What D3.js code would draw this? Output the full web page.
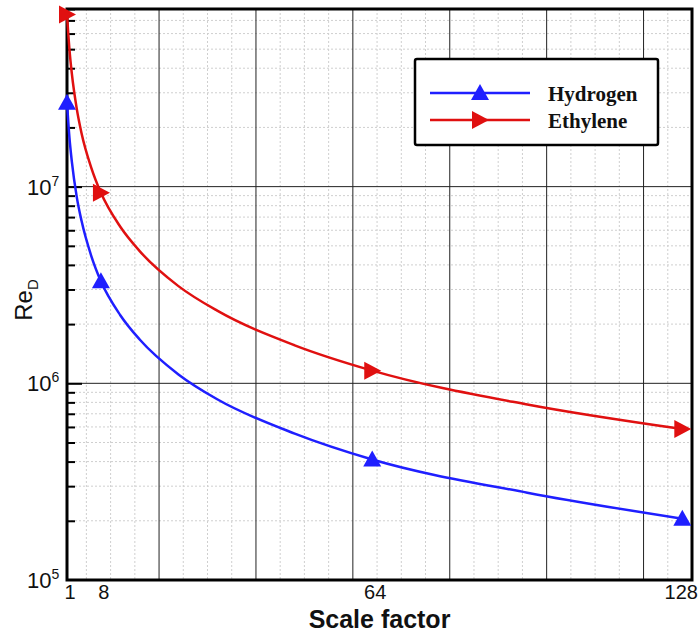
<!DOCTYPE html>
<html>
<head>
<meta charset="utf-8">
<script src="https://d3js.org/d3.v7.min.js"></script>
<style>
    body { margin: 0; background: #fff; }
    svg { display: block; }
</style>
</head>
<body>
<div id="chart"></div>
<script>
// values
var scaleFactor = [1, 1.5, 2, 3, 4, 6, 8, 12, 16, 24, 32, 48, 64, 96, 128];
var hydrogen = [2.67e7, 1.78e7, 1.34e7, 8.9e6, 6.7e6, 4.45e6, 3.3e6, 2.22e6, 1.67e6, 1.11e6, 8.3e5, 5.55e5, 4.1e5, 2.78e5, 2.05e5];
var ethylene = [7.5e7, 5.0e7, 3.75e7, 2.5e7, 1.87e7, 1.25e7, 9.3e6, 6.25e6, 4.7e6, 3.12e6, 2.34e6, 1.56e6, 1.16e6, 7.8e5, 5.85e5];
var markerScale = [1, 8, 64, 128];
var hydrogenMarkers = [2.67e7, 3.3e6, 4.1e5, 2.05e5];
var ethyleneMarkers = [7.5e7, 9.3e6, 1.16e6, 5.85e5];
var xTickLabels = [1, 8, 64, 128];
var yDecades = [1e5, 1e6, 1e7];

var width = 700,
    height = 635;
var plot = { left: 67, right: 692, top: 9, bottom: 580 };

var svg = d3.select("#chart")
    .append("svg")
    .attr("width", width)
    .attr("height", height);

var x = d3.scaleLinear().domain([1, 130]).range([plot.left, plot.right]);
var y = d3.scaleLog().domain([1e5, 8e7]).range([plot.bottom, plot.top]);

// minor grid
var minorX = d3.range(5, 130, 5).filter(function (d) { return d % 20 !== 0; });
var minorY = [];
yDecades.forEach(function (dec) {
    for (var k = 2; k <= 9; k++) {
        if (dec * k <= 8e7) minorY.push(dec * k);
    }
});

var grid = svg.append("g").attr("class", "grid");
grid.selectAll("line.mx")
    .data(minorX)
    .enter().append("line")
    .attr("x1", function (d) { return x(d); })
    .attr("x2", function (d) { return x(d); })
    .attr("y1", plot.top)
    .attr("y2", plot.bottom)
    .style("stroke", "#cfcfcf")
    .style("stroke-width", 1)
    .style("stroke-dasharray", "2,2");
grid.selectAll("line.my")
    .data(minorY)
    .enter().append("line")
    .attr("x1", plot.left)
    .attr("x2", plot.right)
    .attr("y1", function (d) { return y(d); })
    .attr("y2", function (d) { return y(d); })
    .style("stroke", "#cfcfcf")
    .style("stroke-width", 1)
    .style("stroke-dasharray", "2,2");

// major grid
grid.selectAll("line.Mx")
    .data([20, 40, 60, 80, 100, 120])
    .enter().append("line")
    .attr("x1", function (d) { return x(d); })
    .attr("x2", function (d) { return x(d); })
    .attr("y1", plot.top)
    .attr("y2", plot.bottom)
    .style("stroke", "#222")
    .style("stroke-width", 1);
grid.selectAll("line.My")
    .data([1e6, 1e7])
    .enter().append("line")
    .attr("x1", plot.left)
    .attr("x2", plot.right)
    .attr("y1", function (d) { return y(d); })
    .attr("y2", function (d) { return y(d); })
    .style("stroke", "#222")
    .style("stroke-width", 1);

// left ticks, pointing inward
var yAxis = d3.axisRight(y)
    .tickValues(minorY.concat([1e6, 1e7]))
    .tickSize(8)
    .tickFormat("");
var yAxisG = svg.append("g")
    .attr("transform", "translate(" + plot.left + ",0)")
    .call(yAxis);
yAxisG.select(".domain").remove();
yAxisG.selectAll(".tick line")
    .style("stroke", "#000")
    .style("stroke-width", 2)
    .attr("x2", function (d) { return (d === 1e6 || d === 1e7) ? 15 : 8; });

// frame
svg.append("rect")
    .attr("x", plot.left)
    .attr("y", plot.top)
    .attr("width", plot.right - plot.left)
    .attr("height", plot.bottom - plot.top)
    .style("fill", "none")
    .style("stroke", "#000")
    .style("stroke-width", 3);

// y tick labels
var yLab = svg.append("g")
    .selectAll("text")
    .data(yDecades)
    .enter().append("text")
    .attr("x", 27)
    .attr("y", function (d) { return y(d) + 8; })
    .style("font-family", "Arial, 'Liberation Sans', sans-serif")
    .style("font-size", "22px")
    .style("fill", "#111");
yLab.append("tspan").text("10");
yLab.append("tspan")
    .attr("dy", -9)
    .style("font-size", "14px")
    .text(function (d) { return Math.round(Math.log10(d)); });

// x tick labels
svg.append("g")
    .selectAll("text")
    .data(xTickLabels)
    .enter().append("text")
    .attr("x", function (d) { return d === 128 ? x(d) - 1 : x(d) + 3; })
    .attr("y", 599)
    .attr("text-anchor", "middle")
    .style("font-family", "Arial, 'Liberation Sans', sans-serif")
    .style("font-size", "20px")
    .style("fill", "#111")
    .text(function (d) { return d; });

// axis titles
svg.append("text")
    .attr("x", (plot.left + plot.right) / 2)
    .attr("y", 628)
    .attr("text-anchor", "middle")
    .style("font-family", "Arial, 'Liberation Sans', sans-serif")
    .style("font-size", "25px")
    .style("font-weight", "bold")
    .style("fill", "#111")
    .text("Scale factor");

var yTitle = svg.append("text")
    .attr("transform", "translate(32,300) rotate(-90)")
    .attr("text-anchor", "middle")
    .style("font-family", "Arial, 'Liberation Sans', sans-serif")
    .style("font-size", "24px")
    .style("fill", "#111");
yTitle.append("tspan").text("Re");
yTitle.append("tspan")
    .attr("dy", 6)
    .style("font-size", "15px")
    .text("D");

// curves
var line = d3.line()
    .x(function (d) { return x(d[0]); })
    .y(function (d) { return y(d[1]); })
    .curve(d3.curveMonotoneX);

var series = [
    { name: "Hydrogen", color: "#1f1fff", values: hydrogen, markers: hydrogenMarkers, shape: "up" },
    { name: "Ethylene", color: "#e01010", values: ethylene, markers: ethyleneMarkers, shape: "right" }
];

function markerPath(shape) {
    if (shape === "up") return "M0,-9L9,7L-9,7Z";
    return "M-8,-9L9,0L-8,9Z";
}

series.forEach(function (s) {
    svg.append("path")
        .datum(scaleFactor.map(function (v, i) { return [v, s.values[i]]; }))
        .attr("d", line)
        .style("fill", "none")
        .style("stroke", s.color)
        .style("stroke-width", 2.5);

    svg.append("g")
        .selectAll("path")
        .data(markerScale.map(function (v, i) { return [v, s.markers[i]]; }))
        .enter().append("path")
        .attr("transform", function (d) {
            return "translate(" + x(d[0]) + "," + y(d[1]) + ")";
        })
        .attr("d", markerPath(s.shape))
        .style("fill", s.color);
});

// legend
var legend = svg.append("g").attr("class", "legend");
legend.append("rect")
    .attr("x", 415)
    .attr("y", 59)
    .attr("width", 243)
    .attr("height", 86)
    .attr("rx", 2)
    .style("fill", "#fff")
    .style("stroke", "#000")
    .style("stroke-width", 2.5);

var legendRows = legend.selectAll("g.row")
    .data(series)
    .enter().append("g")
    .attr("transform", function (d, i) { return "translate(0," + (93 + i * 27) + ")"; });
legendRows.append("line")
    .attr("x1", 430)
    .attr("x2", 530)
    .style("stroke", function (d) { return d.color; })
    .style("stroke-width", 2.5);
legendRows.append("path")
    .attr("transform", "translate(480,0)")
    .attr("d", function (d) { return markerPath(d.shape); })
    .style("fill", function (d) { return d.color; });
legendRows.append("text")
    .attr("x", 548)
    .attr("y", 8)
    .style("font-family", "'Liberation Serif', 'Times New Roman', serif")
    .style("font-size", "21px")
    .style("font-weight", "bold")
    .style("fill", "#111")
    .text(function (d) { return d.name; });
</script>
</body>
</html>
